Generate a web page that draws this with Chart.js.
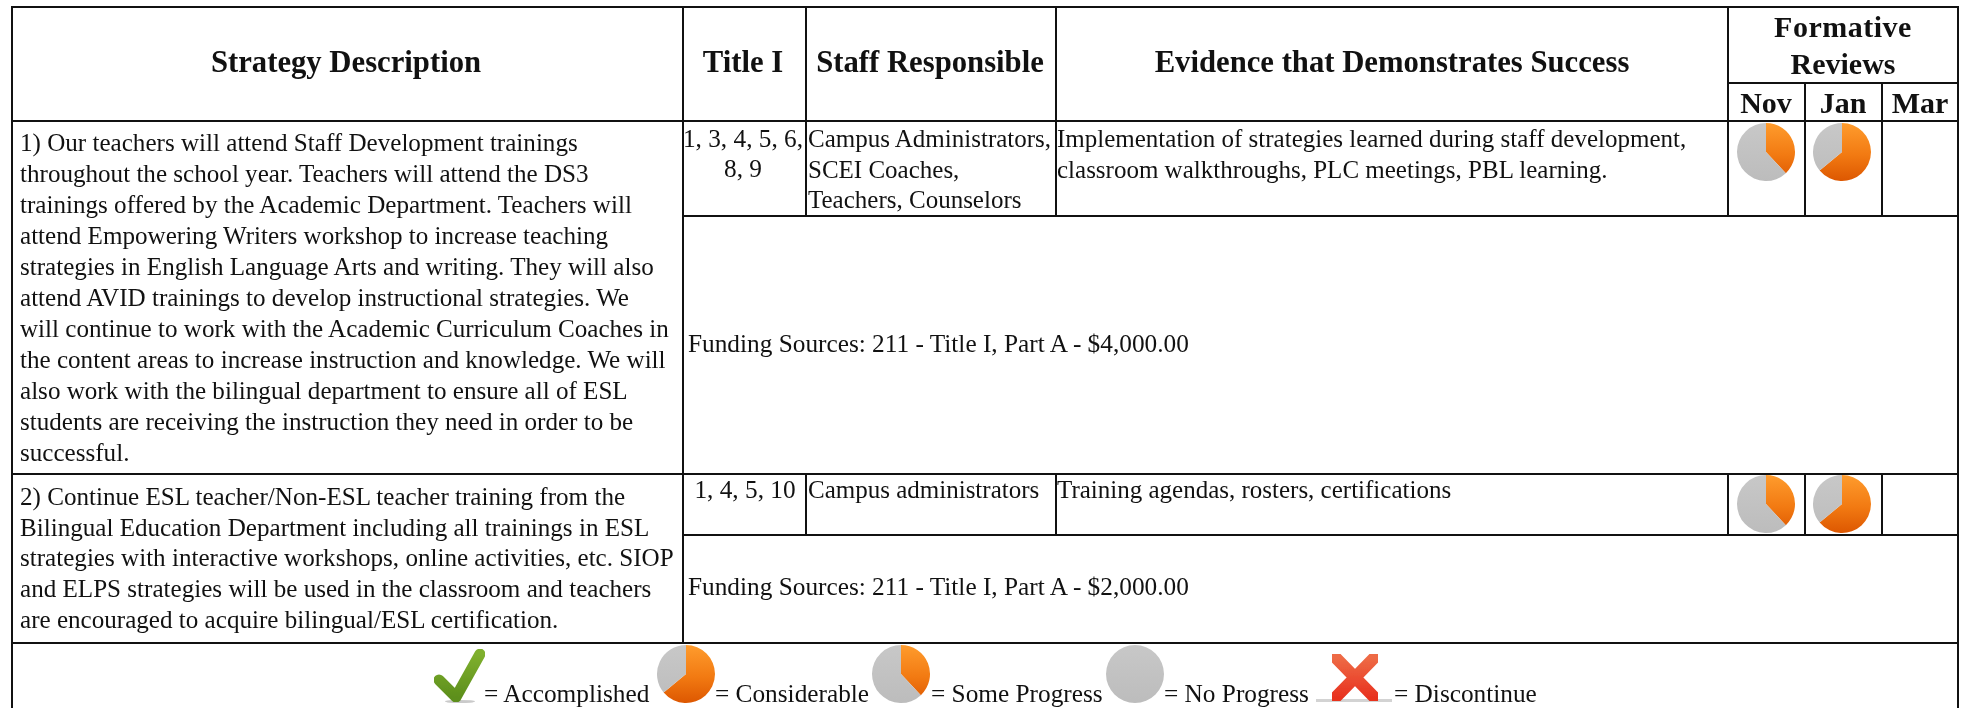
<!DOCTYPE html>
<html>
<head>
<meta charset="utf-8">
<title>Formative Reviews</title>
<script src="https://cdn.jsdelivr.net/npm/chart.js@4"></script>
<style>
  html, body { margin: 0; padding: 0; background: #fff; overflow: hidden; }
  #page { position: relative; width: 1963px; height: 708px; font-family: "Liberation Serif", serif; color: #111; }
  .t { position: absolute; white-space: nowrap; line-height: 1; filter: blur(0.3px); }
  .line { position: absolute; background: #111; }
  canvas { position: absolute; filter: blur(0.5px); }
  svg { position: absolute; }
</style>
</head>
<body>
<div id="page"></div>
<script>
// table text
const headers = ["Strategy Description", "Title I", "Staff Responsible", "Evidence that Demonstrates Success"];
const reviewTitle = ["Formative", "Reviews"];
const months = ["Nov", "Jan", "Mar"];
const strategy1 = [
  "1) Our teachers will attend Staff Development trainings",
  "throughout the school year. Teachers will attend the DS3",
  "trainings offered by the Academic Department. Teachers will",
  "attend Empowering Writers workshop to increase teaching",
  "strategies in English Language Arts and writing. They will also",
  "attend AVID trainings to develop instructional strategies. We",
  "will continue to work with the Academic Curriculum Coaches in",
  "the content areas to increase instruction and knowledge. We will",
  "also work with the bilingual department to ensure all of ESL",
  "students are receiving the instruction they need in order to be",
  "successful."
];
const strategy2 = [
  "2) Continue ESL teacher/Non-ESL teacher training from the",
  "Bilingual Education Department including all trainings in ESL",
  "strategies with interactive workshops, online activities, etc. SIOP",
  "and ELPS strategies will be used in the classroom and teachers",
  "are encouraged to acquire bilingual/ESL certification."
];
const title1 = ["1, 3, 4, 5, 6,", "8, 9"];
const staff1 = ["Campus Administrators,", "SCEI Coaches,", "Teachers, Counselors"];
const evidence1 = ["Implementation of strategies learned during staff development,", "classroom walkthroughs, PLC meetings, PBL learning."];
const funding1 = "Funding Sources: 211 - Title I, Part A - $4,000.00";
const title2 = ["1, 4, 5, 10"];
const staff2 = ["Campus administrators"];
const evidence2 = ["Training agendas, rosters, certifications"];
const funding2 = "Funding Sources: 211 - Title I, Part A - $2,000.00";
const legendLabels = ["= Accomplished", "= Considerable", "= Some Progress", "= No Progress", "= Discontinue"];

// pie values: share done, share left
const pieLabels = ["Done", "Remaining"];
const considerable = [64, 36];
const someProgress = [38, 62];
const noProgress = [0, 100];

const page = document.getElementById("page");
const SIZE = 25.1, WIDE = 25.3, HEAD = 30.7;

function text(str, x, baseline, opts) {
  opts = opts || {};
  const size = opts.size || SIZE;
  const el = document.createElement("div");
  el.className = "t";
  el.textContent = str;
  el.style.fontSize = size + "px";
  el.style.top = (baseline - 0.8375 * size) + "px";
  el.style.left = x + "px";
  if (opts.bold) el.style.fontWeight = "bold";
  if (opts.spacing) el.style.letterSpacing = opts.spacing + "px";
  if (opts.center) el.style.transform = "translateX(-50%)";
  page.appendChild(el);
}

function hLine(y, x1, x2) {
  const el = document.createElement("div");
  el.className = "line";
  el.style.cssText = `left:${x1 - 1}px;top:${y - 1}px;width:${x2 - x1 + 2}px;height:2px`;
  page.appendChild(el);
}
function vLine(x, y1, y2) {
  const el = document.createElement("div");
  el.className = "line";
  el.style.cssText = `left:${x - 1}px;top:${y1 - 1}px;width:2px;height:${y2 - y1 + 2}px`;
  page.appendChild(el);
}

// grid
[7, 121, 474, 643].forEach((y) => hLine(y, 12, 1958));
[216, 535].forEach((y) => hLine(y, 683, 1958));
hLine(83, 1728, 1958);
vLine(12, 7, 708);
vLine(1958, 7, 708);
vLine(683, 7, 643);
[806, 1056, 1728].forEach((x) => { vLine(x, 7, 216); vLine(x, 474, 535); });
[1805, 1882].forEach((x) => { vLine(x, 83, 216); vLine(x, 474, 535); });

// header
[346, 743, 930, 1392].forEach((x, i) => text(headers[i], x, 73, { size: HEAD, bold: true, center: true }));
text(reviewTitle[0], 1843, 37, { size: 30, bold: true, center: true, spacing: 0.5 });
text(reviewTitle[1], 1843, 74, { size: 30, bold: true, center: true });
[1766, 1843, 1920].forEach((x, i) => text(months[i], x, 113, { size: 30, bold: true, center: true }));

// row 1
strategy1.forEach((s, i) => text(s, 20, 151 + i * 31));
title1.forEach((s, i) => text(s, 743, 147 + i * 30.5, { center: true, size: WIDE }));
staff1.forEach((s, i) => text(s, 808, 147 + i * 30.5, { size: 25 }));
evidence1.forEach((s, i) => text(s, 1057, 147 + i * 30.5, { size: 25 }));
text(funding1, 688, 352, { size: WIDE });

// row 2
strategy2.forEach((s, i) => text(s, 20, 505 + i * 30.75));
text(title2[0], 745, 498, { center: true, size: WIDE });
text(staff2[0], 808, 498, { size: 25 });
text(evidence2[0], 1057, 498, { size: 25 });
text(funding2, 688, 595, { size: WIDE });

// legend
[484, 715, 931, 1164, 1394].forEach((x, i) => text(legendLabels[i], x, 702, { size: WIDE }));

function orangeFill(chart) {
  const g = chart.ctx.createLinearGradient(0, 0, 0, chart.height);
  g.addColorStop(0, "#ff9d2e");
  g.addColorStop(0.55, "#f27a12");
  g.addColorStop(1, "#dc5600");
  return g;
}
function greyFill(chart) {
  const g = chart.ctx.createLinearGradient(0, 0, 0, chart.height);
  g.addColorStop(0, "#c8c8c8");
  g.addColorStop(1, "#bcbcbc");
  return g;
}

function makePie(values, cx, cy) {
  const c = document.createElement("canvas");
  c.width = 60;
  c.height = 60;
  c.style.left = (cx - 30) + "px";
  c.style.top = (cy - 30) + "px";
  page.appendChild(c);
  new Chart(c, {
    type: "pie",
    data: {
      labels: pieLabels,
      datasets: [{
        data: values,
        backgroundColor: (ctx) => (ctx.dataIndex === 0 ? orangeFill(ctx.chart) : greyFill(ctx.chart)),
        borderWidth: 0
      }]
    },
    options: {
      responsive: false,
      animation: false,
      layout: { padding: 1 },
      plugins: { legend: { display: false }, tooltip: { enabled: false } }
    }
  });
}

// review cells
makePie(someProgress, 1765.5, 152);
makePie(considerable, 1842, 152);
makePie(someProgress, 1765.5, 504);
makePie(considerable, 1842, 504);

// legend pies
makePie(considerable, 685.5, 673.5);
makePie(someProgress, 901, 673.5);
makePie(noProgress, 1135, 673.5);

// check and cross icons
page.insertAdjacentHTML("beforeend", `
<svg style="left:428px;top:645px" width="62" height="60" viewBox="0 0 62 60">
  <defs>
    <linearGradient id="chk" x1="0" y1="0" x2="0" y2="1"><stop offset="0" stop-color="#7fb02e"/><stop offset="1" stop-color="#5d8f1c"/></linearGradient>
    <filter id="soft"><feGaussianBlur stdDeviation="0.6"/></filter>
  </defs>
  <ellipse cx="32" cy="56.5" rx="15" ry="1.6" fill="#a8a8a8" opacity="0.6" filter="url(#soft)"/>
  <path d="M11 35 L28 52 L52 9" fill="none" stroke="url(#chk)" stroke-width="11" stroke-linecap="round" stroke-linejoin="round" filter="url(#soft)"/>
</svg>
<svg style="left:1312px;top:648px" width="86" height="58" viewBox="0 0 86 58">
  <defs>
    <linearGradient id="crs" x1="0" y1="0" x2="0" y2="1"><stop offset="0" stop-color="#ee6a45"/><stop offset="1" stop-color="#e8321f"/></linearGradient>
  </defs>
  <rect x="4" y="51" width="76" height="3" fill="#a8a8a8" opacity="0.5" filter="url(#soft)"/>
  <path d="M24 10 L62 49 M62 10 L24 49" fill="none" stroke="url(#crs)" stroke-width="12" stroke-linecap="round" filter="url(#soft)"/>
</svg>`);
</script>
</body>
</html>
